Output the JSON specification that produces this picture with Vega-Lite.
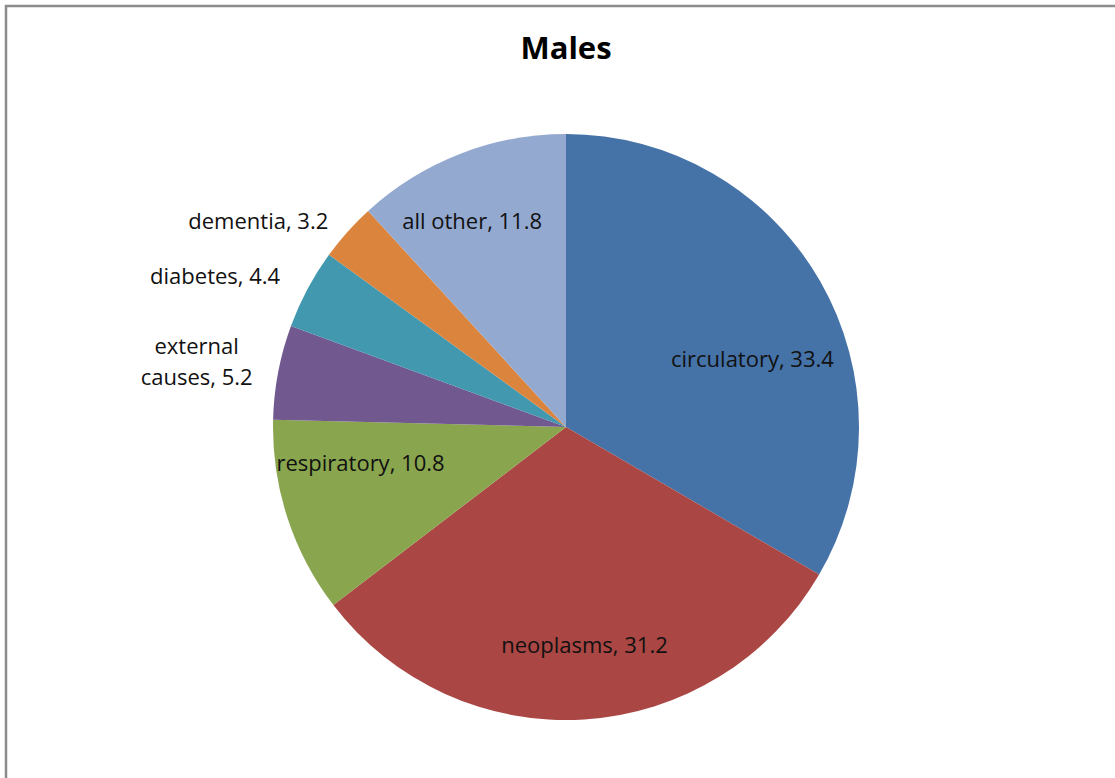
{
  "$schema": "https://vega.github.io/schema/vega-lite/v6.json",
  "width": 1120,
  "height": 842,
  "autosize": {"type": "none"},
  "padding": {"left": 6, "top": 6, "right": 0, "bottom": 0},
  "background": "white",
  "view": {"stroke": "#8c8c8c", "strokeWidth": 2.5, "fill": "white"},
  "title": {
    "text": "Males",
    "font": "Open Sans",
    "fontSize": 31,
    "fontWeight": "bold",
    "color": "#000000",
    "anchor": "middle",
    "offset": -60
  },
  "data": {
    "values": [
      {"cause": "circulatory", "value": 33.4, "order": 1},
      {"cause": "neoplasms", "value": 31.2, "order": 2},
      {"cause": "respiratory", "value": 10.8, "order": 3},
      {"cause": "external causes", "value": 5.2, "order": 4},
      {"cause": "diabetes", "value": 4.4, "order": 5},
      {"cause": "dementia", "value": 3.2, "order": 6},
      {"cause": "all other", "value": 11.8, "order": 7}
    ]
  },
  "transform": [
    {"calculate": "replace(datum.cause, 'external ', 'external\\n') + ', ' + format(datum.value, '.1f')", "as": "label"}
  ],
  "encoding": {
    "theta": {"field": "value", "type": "quantitative", "stack": true},
    "order": {"field": "order", "type": "quantitative"}
  },
  "layer": [
    {
      "mark": {"type": "arc", "outerRadius": 293},
      "encoding": {
        "color": {
          "field": "cause",
          "type": "nominal",
          "scale": {
            "domain": ["circulatory", "neoplasms", "respiratory", "external causes", "diabetes", "dementia", "all other"],
            "range": ["#4572A7", "#AA4643", "#89A54E", "#71588F", "#4198AF", "#DB843D", "#93A9CF"]
          },
          "legend": null
        }
      }
    },
    {
      "mark": {"type": "text", "radius": 215, "dy": 40, "font": "Open Sans", "fontSize": 22, "color": "#111111"},
      "encoding": {
        "text": {"condition": {"test": "datum.cause != 'circulatory'", "value": ""}, "field": "label", "type": "nominal"}
      }
    },
    {
      "mark": {"type": "text", "radius": 215, "dx": 5, "dy": 4, "font": "Open Sans", "fontSize": 22, "color": "#111111"},
      "encoding": {
        "text": {"condition": {"test": "datum.cause != 'neoplasms'", "value": ""}, "field": "label", "type": "nominal"}
      }
    },
    {
      "mark": {"type": "text", "radius": 215, "dx": -1, "dy": -29, "font": "Open Sans", "fontSize": 22, "color": "#111111"},
      "encoding": {
        "text": {"condition": {"test": "datum.cause != 'respiratory'", "value": ""}, "field": "label", "type": "nominal"}
      }
    },
    {
      "mark": {"type": "text", "radius": 215, "dx": -16, "dy": -5, "font": "Open Sans", "fontSize": 22, "color": "#111111"},
      "encoding": {
        "text": {"condition": {"test": "datum.cause != 'all other'", "value": ""}, "field": "label", "type": "nominal"}
      }
    },
    {
      "mark": {"type": "text", "radius": 375, "dx": -1, "dy": -10, "font": "Open Sans", "fontSize": 22, "color": "#111111", "lineBreak": "\n", "lineHeight": 31},
      "encoding": {
        "text": {"condition": {"test": "datum.cause != 'external causes'", "value": ""}, "field": "label", "type": "nominal"}
      }
    },
    {
      "mark": {"type": "text", "radius": 375, "dx": -20, "dy": 27, "font": "Open Sans", "fontSize": 22, "color": "#111111"},
      "encoding": {
        "text": {"condition": {"test": "datum.cause != 'diabetes'", "value": ""}, "field": "label", "type": "nominal"}
      }
    },
    {
      "mark": {"type": "text", "radius": 375, "dx": -28, "dy": 45, "font": "Open Sans", "fontSize": 22, "color": "#111111"},
      "encoding": {
        "text": {"condition": {"test": "datum.cause != 'dementia'", "value": ""}, "field": "label", "type": "nominal"}
      }
    }
  ]
}
